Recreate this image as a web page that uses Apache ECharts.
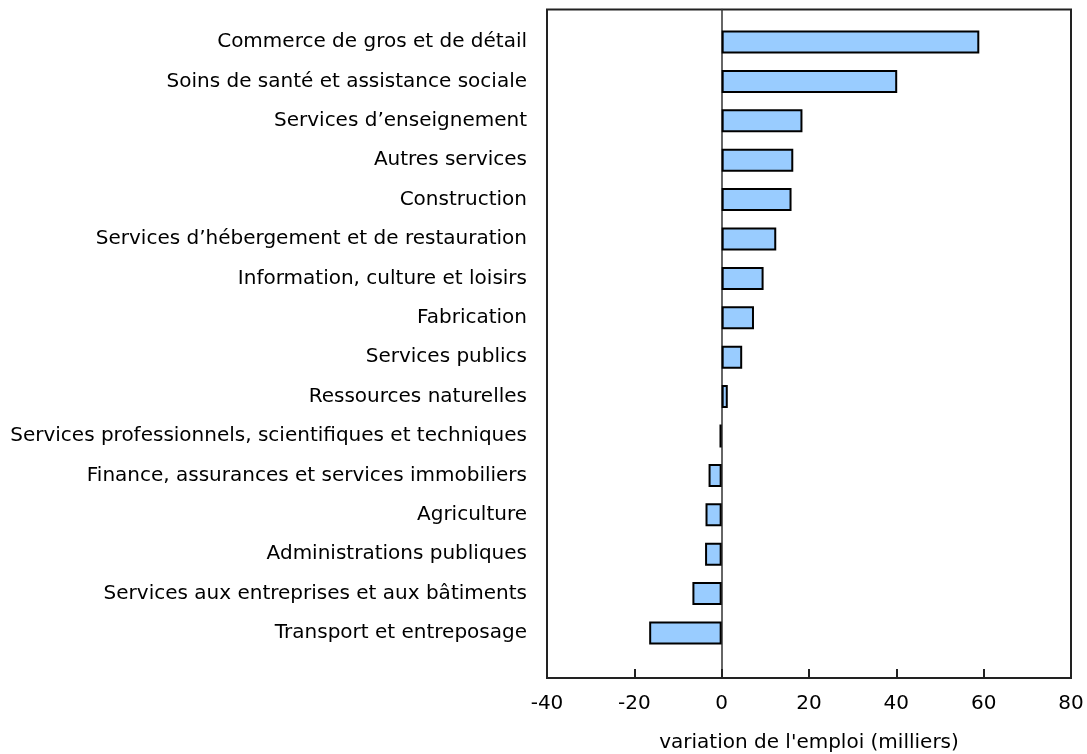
<!DOCTYPE html>
<html>
<head>
<meta charset="utf-8">
<script src="https://cdn.jsdelivr.net/npm/echarts@6/dist/echarts.min.js"></script>
<style>html,body{margin:0;padding:0;background:#fff}#c{width:1087px;height:754px}</style>
</head>
<body>
<div id="c"></div>
<script>
const categories = [
  "Commerce de gros et de détail",
  "Soins de santé et assistance sociale",
  "Services d’enseignement",
  "Autres services",
  "Construction",
  "Services d’hébergement et de restauration",
  "Information, culture et loisirs",
  "Fabrication",
  "Services publics",
  "Ressources naturelles",
  "Services professionnels, scientifiques et techniques",
  "Finance, assurances et services immobiliers",
  "Agriculture",
  "Administrations publiques",
  "Services aux entreprises et aux bâtiments",
  "Transport et entreposage"
];
const values = [59.0, 40.2, 18.5, 16.4, 16.0, 12.5, 9.6, 7.4, 4.7, 1.4, -0.5, -3.0, -3.7, -3.8, -6.7, -16.6];
const xTicks = { min: -40, max: 80, interval: 20 };
const axisTitle = "variation de l'emploi (milliers)";

const font = "'DejaVu Sans'";
const chart = echarts.init(document.getElementById('c'), null, { renderer: 'canvas' });
chart.setOption({
  animation: false,
  grid: [
    { left: 547, right: 16, top: 9.5, bottom: 76, outerBoundsMode: 'none', containLabel: false,
      show: true, borderColor: '#222', borderWidth: 2, backgroundColor: 'transparent' },
    { left: 547, right: 16, top: 22.3, bottom: 101.3, outerBoundsMode: 'none', containLabel: false }
  ],
  xAxis: [
    {
      gridIndex: 0, type: 'value', min: xTicks.min, max: xTicks.max, interval: xTicks.interval,
      axisLine: { show: true, onZero: false, lineStyle: { color: '#222', width: 2 } },
      axisTick: { show: true, inside: true, length: 9, lineStyle: { color: '#222', width: 2 } },
      axisLabel: { color: '#000', fontFamily: font, fontSize: 20, margin: 16 },
      splitLine: { show: false },
      name: axisTitle, nameLocation: 'middle', nameGap: 55,
      nameTextStyle: { color: '#000', fontFamily: font, fontSize: 20 }
    },
    {
      gridIndex: 1, type: 'value', min: xTicks.min, max: xTicks.max, interval: xTicks.interval,
      show: false
    }
  ],
  yAxis: [
    {
      gridIndex: 0, type: 'value', min: 0, max: 1,
      axisLine: { show: true, onZero: true, lineStyle: { color: '#333', width: 1.5 } },
      axisTick: { show: false }, axisLabel: { show: false }, splitLine: { show: false }
    },
    {
      gridIndex: 1, type: 'category', data: categories, inverse: true,
      axisLine: { show: false, onZero: false }, axisTick: { show: false },
      axisLabel: { color: '#000', fontFamily: font, fontSize: 20, margin: 20, padding: [3, 0, 0, 0] },
      splitLine: { show: false }
    }
  ],
  series: [
    {
      type: 'bar', xAxisIndex: 1, yAxisIndex: 1, data: values, barWidth: 23,
      itemStyle: { color: '#99CCFF', borderColor: '#000', borderWidth: 2 }
    }
  ]
});
</script>
</body>
</html>
